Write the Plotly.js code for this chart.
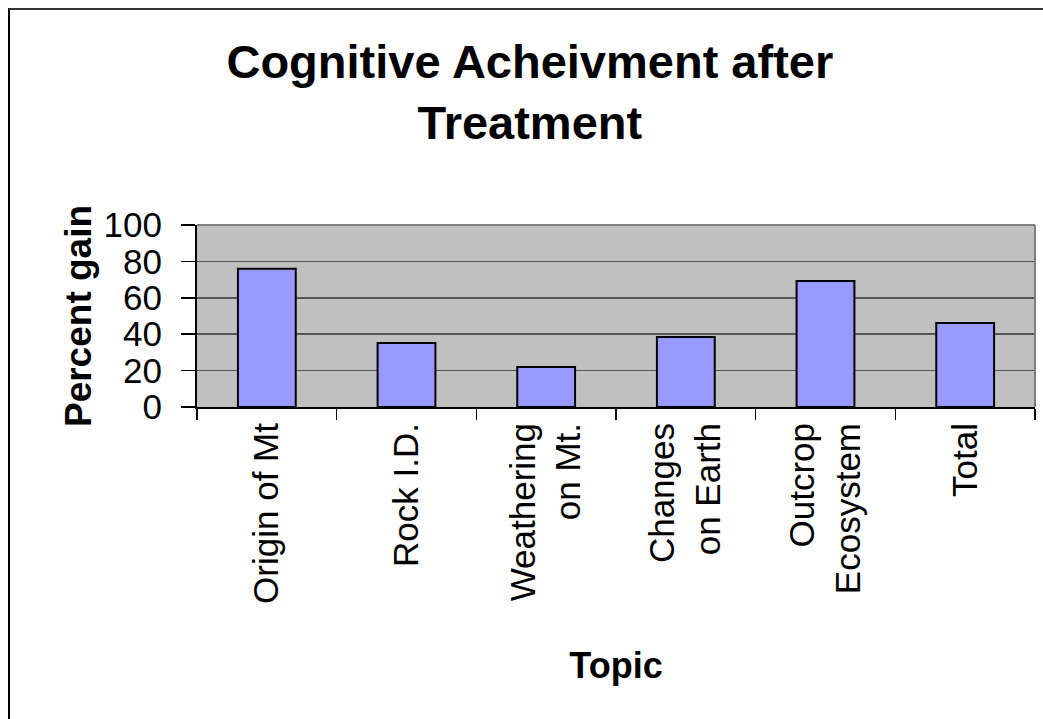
<!DOCTYPE html>
<html>
<head>
<meta charset="utf-8">
<script src="https://cdn.plot.ly/plotly-3.0.1.min.js"></script>
<style>
  html, body { margin: 0; padding: 0; background: #fff; overflow: hidden; }
  #wrap { position: relative; width: 1043px; height: 719px; }
  #chart { position: absolute; left: 0; top: 0; width: 1043px; height: 719px; }
  #frame { position: absolute; left: 8px; top: 8px; width: 1100px; height: 800px;
           border-top: 2px solid #333; border-left: 2px solid #000; pointer-events: none; }
</style>
</head>
<body>
<div id="wrap">
  <div id="chart"></div>
  <div id="frame"></div>
</div>
<script>
const categories = ["Origin of Mt", "Rock I.D.", "Weathering<br>on Mt.", "Changes<br>on Earth", "Outcrop<br>Ecosystem", "Total"];
const percentGain = [76, 35.2, 22, 38.5, 69.2, 46.2];
const yTickValues = [0, 20, 40, 60, 80, 100];
const titleText = "Cognitive Acheivment after<br>Treatment";
const xTitle = "Topic";
const yTitle = "Percent gain";

const font = "Liberation Sans, Arial, sans-serif";

const trace = {
  type: "bar",
  x: categories,
  y: percentGain,
  marker: { color: "#9999ff", line: { color: "#000", width: 2 } },
  hoverinfo: "skip"
};

const layout = {
  width: 1043,
  height: 719,
  margin: { l: 197, r: 8, t: 225, b: 312 },
  paper_bgcolor: "#fff",
  plot_bgcolor: "#c0c0c0",
  showlegend: false,
  bargap: 0.586,
  font: { family: font, color: "#000" },
  title: {
    text: titleText,
    font: { family: font, size: 47, color: "#000", weight: "bold" },
    xref: "container", x: 0.508, xanchor: "center",
    yref: "container", y: 0.891, yanchor: "top"
  },
  xaxis: {
    type: "category",
    tickangle: -90,
    ticks: "outside",
    tickson: "boundaries",
    ticklen: 11,
    tickcolor: "#000",
    tickwidth: 1.5,
    showline: true,
    linecolor: "#000",
    linewidth: 2,
    showgrid: false,
    tickfont: { family: font, size: 35, color: "#000" },
    title: { text: xTitle, font: { family: font, size: 36, color: "#000", weight: "bold" }, standoff: 50 }
  },
  yaxis: {
    range: [0, 100],
    tickvals: yTickValues,
    ticks: "outside",
    ticklen: 14,
    tickcolor: "#000",
    tickwidth: 1.5,
    showline: true,
    linecolor: "#000",
    linewidth: 2,
    showgrid: true,
    gridcolor: "#555",
    gridwidth: 1.5,
    zeroline: false,
    ticklabelstandoff: 12,
    tickfont: { family: font, size: 35, color: "#000" },
    title: { text: yTitle, font: { family: font, size: 37, color: "#000", weight: "bold" }, standoff: 1 }
  },
  shapes: [
    { type: "line", xref: "paper", yref: "paper", x0: 0, x1: 1, y0: 1, y1: 1, line: { color: "#808080", width: 2 } },
    { type: "line", xref: "paper", yref: "paper", x0: 1, x1: 1, y0: 0, y1: 1, line: { color: "#808080", width: 2 } }
  ]
};

Plotly.newPlot("chart", [trace], layout, { displayModeBar: false, staticPlot: true });
</script>
</body>
</html>
